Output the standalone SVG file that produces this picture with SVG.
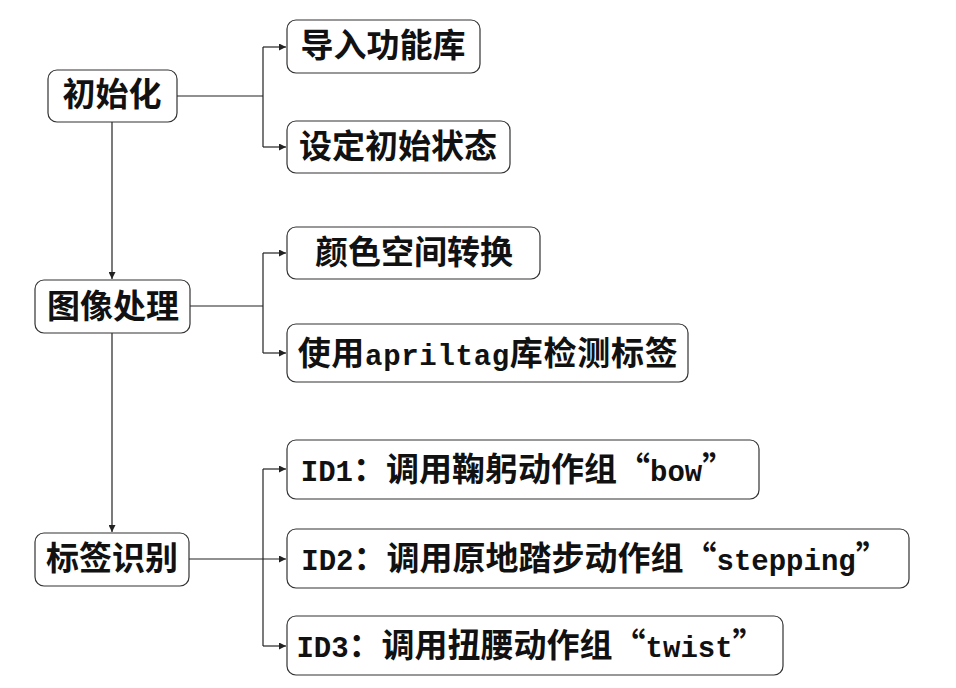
<svg xmlns="http://www.w3.org/2000/svg" width="956" height="688" viewBox="0 0 956 688">
<style>
.box{fill:#fff;stroke:#333;stroke-width:1.2}
.t{font-family:"Noto Sans CJK SC","Liberation Sans",sans-serif;font-weight:bold;font-size:33px;fill:#111;text-anchor:middle}
.lat{font-family:"Liberation Mono","DejaVu Sans Mono",monospace;font-weight:bold;font-size:29px}
.c{fill:none;stroke:#222;stroke-width:1.2}
</style>
<defs>
<marker id="ah" viewBox="0 0 8 8" refX="8" refY="4" markerWidth="7" markerHeight="7" markerUnits="userSpaceOnUse" orient="auto">
<path d="M0,0 L8,4 L0,8 z" fill="#222"/>
</marker>
</defs>
<g id="connectors">
<path class="c" d="M177,96 H263 M263,47 V147"/>
<path class="c" d="M263,47 H286" marker-end="url(#ah)"/>
<path class="c" d="M263,147 H286" marker-end="url(#ah)"/>
<path class="c" d="M112,122 V279" marker-end="url(#ah)"/>
<path class="c" d="M190,306 H263 M263,253 V353"/>
<path class="c" d="M263,253 H286" marker-end="url(#ah)"/>
<path class="c" d="M263,353 H286" marker-end="url(#ah)"/>
<path class="c" d="M112,333 V532" marker-end="url(#ah)"/>
<path class="c" d="M189,559 H286" marker-end="url(#ah)"/>
<path class="c" d="M263,469 V646"/>
<path class="c" d="M263,469 H286" marker-end="url(#ah)"/>
<path class="c" d="M263,646 H286" marker-end="url(#ah)"/>
</g>
<g id="n-init"><rect class="box" x="48" y="70" width="129" height="52" rx="9"/><text class="t" x="112" y="106">初始化</text></g>
<g id="n-import"><rect class="box" x="287" y="20" width="193" height="53" rx="9"/><text class="t" x="383" y="57">导入功能库</text></g>
<g id="n-state"><rect class="box" x="287" y="121" width="223" height="52" rx="9"/><text class="t" x="398" y="158">设定初始状态</text></g>
<g id="n-img"><rect class="box" x="35" y="280" width="155" height="53" rx="9"/><text class="t" x="113" y="318">图像处理</text></g>
<g id="n-color"><rect class="box" x="287" y="227" width="253" height="52" rx="9"/><text class="t" x="414" y="264">颜色空间转换</text></g>
<g id="n-april"><rect class="box" x="287" y="324" width="401" height="58" rx="9"/><text class="t" x="488" y="365" style="letter-spacing:0.7px">使用<tspan class="lat">apriltag</tspan>库检测标签</text></g>
<g id="n-tag"><rect class="box" x="35" y="533" width="154" height="53" rx="9"/><text class="t" x="112" y="570">标签识别</text></g>
<g id="n-id1"><rect class="box" x="287" y="440" width="472" height="59" rx="9"/><text class="t" x="518" y="481"><tspan class="lat">ID1</tspan>：调用鞠躬动作组“<tspan class="lat">bow</tspan>”</text></g>
<g id="n-id2"><rect class="box" x="287" y="529" width="622" height="59" rx="9"/><text class="t" x="595" y="570"><tspan class="lat">ID2</tspan>：调用原地踏步动作组“<tspan class="lat">stepping</tspan>”</text></g>
<g id="n-id3"><rect class="box" x="287" y="616" width="496" height="59" rx="9"/><text class="t" x="531" y="657"><tspan class="lat">ID3</tspan>：调用扭腰动作组“<tspan class="lat">twist</tspan>”</text></g>
</svg>
